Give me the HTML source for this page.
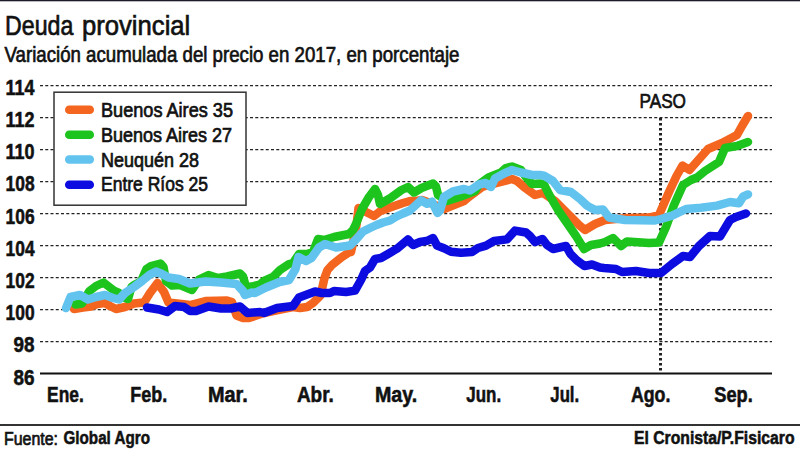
<!DOCTYPE html>
<html><head><meta charset="utf-8">
<style>
html,body{margin:0;padding:0;background:#fff;}
body{width:800px;height:450px;overflow:hidden;position:relative;}
svg{position:absolute;left:0;top:0;}
text{font-family:"Liberation Sans",sans-serif;fill:#111;}
.r{stroke:#111;stroke-width:0.7px;}
.b{stroke:#111;stroke-width:0.55px;}
.b{font-weight:bold;}
</style></head><body>
<svg width="800" height="450" viewBox="0 0 800 450">
<rect x="0" y="0" width="800" height="1.3" fill="#1c1c28"/>
<text x="5" y="34.9" class="r" font-size="28.5" textLength="68.3" lengthAdjust="spacingAndGlyphs">Deuda</text><text x="82" y="34.9" class="r" font-size="28.5" textLength="108.3" lengthAdjust="spacingAndGlyphs">provincial</text>
<text x="4.5" y="62.3" class="r" font-size="22" textLength="455" lengthAdjust="spacingAndGlyphs">Variación acumulada del precio en 2017, en porcentaje</text>
<line x1="40" y1="85.6" x2="772" y2="85.6" stroke="#222" stroke-width="1.4" stroke-dasharray="3 2.25"/>
<line x1="40" y1="117.6" x2="772" y2="117.6" stroke="#222" stroke-width="1.4" stroke-dasharray="3 2.25"/>
<line x1="40" y1="149.6" x2="772" y2="149.6" stroke="#222" stroke-width="1.4" stroke-dasharray="3 2.25"/>
<line x1="40" y1="181.6" x2="772" y2="181.6" stroke="#222" stroke-width="1.4" stroke-dasharray="3 2.25"/>
<line x1="40" y1="213.6" x2="772" y2="213.6" stroke="#222" stroke-width="1.4" stroke-dasharray="3 2.25"/>
<line x1="40" y1="245.6" x2="772" y2="245.6" stroke="#222" stroke-width="1.4" stroke-dasharray="3 2.25"/>
<line x1="40" y1="277.6" x2="772" y2="277.6" stroke="#222" stroke-width="1.4" stroke-dasharray="3 2.25"/>
<line x1="40" y1="309.6" x2="772" y2="309.6" stroke="#222" stroke-width="1.4" stroke-dasharray="3 2.25"/>
<line x1="40" y1="341.6" x2="772" y2="341.6" stroke="#222" stroke-width="1.4" stroke-dasharray="3 2.25"/>
<line x1="40" y1="373.5" x2="772" y2="373.5" stroke="#111" stroke-width="2"/>
<line x1="660.5" y1="118" x2="660.5" y2="372" stroke="#222" stroke-width="3" stroke-dasharray="2.6 2.4"/>
<polyline points="74,309 83,307.5 91,306.5 97,304 105,303 110,306 116,309 125,307 134,303.5 144,302.5 150,293 157.5,283 164,292 168.5,302.5 190,305 205.5,301 227,300.5 232,302 236.5,315.5 243,318 249,318 264,313 278,310 293,307 300,308 307,307 313,303 320.5,295.5 324.5,278 327.5,270 332,265 342,257 350,251.7 351,252 354,238 356.5,225 358.5,208 366,212 374,216 380.5,211 390,207.5 403,203 410,201 416,201 422,200 433,204 444,209 464,201 470,196 482,187 495,183.5 512,179 517,181 524,187 535,195 543,193 555,201 567,213 579,225 585,230 595,224 605,220 627,218 649,217.5 659,215 669,192 676.5,176 682.5,165.5 689.5,170 708,149 722,143 737,135 742,126 748,116" fill="none" stroke="#f4661f" stroke-width="8.5" stroke-linejoin="round" stroke-linecap="round"/>
<polyline points="75.5,304.5 82,303.5 89.5,291 96,286 103.5,282.5 110,287.5 114.5,291 119,293 125,298 128,299 131.5,287 135,284.5 141,281.5 146.5,269 151,266 160.5,263.5 163.5,267 166,281 172,285.5 180,285 192,290 199,279.5 208.5,275 218,278 227,276.5 240,273.5 243,276.5 246,287 252,286.5 260,284.5 264,281 273,277 280,270 289,264 293,263 299,254 307,254 313,252 318,239 324,240 334,237 349,234 353,230 356,224 362,209 369,197 375,189 378,195 380,204 390.5,198 401.5,190 408,187 414,192.5 421.5,188 433,183.5 436,186.5 438,195 447,201 459.5,197 475,191 479.5,184 488.5,177.5 501,172.5 506,168 512,166.5 521,170 526,177 532,184 540,183.5 544,184.4 549,194.4 558,210 567,223 576,236 584,249 591,245 600,243.5 605,242 613,238 621,246 627,241.5 649,243 659,242.5 666,227 674,205 683,185 691,180 697,177.5 705,171 719,162 725,148 737,146 748,142" fill="none" stroke="#1ec41e" stroke-width="8.5" stroke-linejoin="round" stroke-linecap="round"/>
<polyline points="66,308 70.5,297 80,295 88,299.5 96,297 105,295 113,298 119,299.5 125,293 134,287 142,281 150,274.5 156,271.5 162,274 168.5,277.5 179,279 190,283.5 205.5,281.5 221,282.5 236.5,284 243,291 245,295 252,292.5 255,293 266,287.5 279.5,282 289,280 295.5,269 298.5,257 306,261 311.5,258 319,247.5 325,244 336,247.5 350,245.5 356.5,239 363,231.5 370,228 376.5,225 383,222.5 390,220.5 396.5,216.5 403,213.5 410,210.5 417,204 421,200.3 427,203.7 432,201.7 437.5,213 440,210.5 444,197 453,191.5 464,189 470,190.5 479,184.5 485.5,183 491,187 495,178.5 504,173.5 512,170 521,172.5 532,175 540,175 544,175.6 553,181 560,190 571,192 580,199 587,205.6 595,210 603,209.5 609,217.5 625,220 655,220.5 661,219 672,215.6 686,209 701,207.8 717,205.6 730,202 739,203.3 743,196.7 748,194.4" fill="none" stroke="#62c3ee" stroke-width="8.5" stroke-linejoin="round" stroke-linecap="round"/>
<polyline points="147,307.5 159,309.5 167,312 175,306 184,307 190,311 196,311 208.5,306.5 221,308.5 230.5,308.5 240,306.5 247.5,313 260,312 264,313 277,308 293,306 299,297.5 315,291.5 322,293 330,293 334,291 346,292 355,290.6 361,280 365,271 370,267.5 375,259 381,258 388,254 397,248.7 405,242 408,239.4 413,245 420,242 428,240.6 433,238 437,245.6 444,248.3 451,251.7 461,252.8 472,252 478,248 486,245.6 494,241 507,239.4 515,230.6 526,232.5 530,236 535,242 542.5,239 547,245 553,249 566,246 570.5,254 577,260.5 584.5,266 592,264.5 600,267.5 604,268 616,269 622,272 636,271 649,273 661,273 672,264 683,256 690,257 699,246 710,236 720,236.5 730,220 736,217 746,213.5" fill="none" stroke="#0c0ce0" stroke-width="8.5" stroke-linejoin="round" stroke-linecap="round"/>
<text x="5.6" y="94.5" class="b" font-size="21.5" textLength="29" lengthAdjust="spacingAndGlyphs">114</text>
<text x="5.6" y="126.7" class="b" font-size="21.5" textLength="29" lengthAdjust="spacingAndGlyphs">112</text>
<text x="5.6" y="159.0" class="b" font-size="21.5" textLength="29" lengthAdjust="spacingAndGlyphs">110</text>
<text x="5.6" y="191.2" class="b" font-size="21.5" textLength="29" lengthAdjust="spacingAndGlyphs">108</text>
<text x="5.6" y="223.5" class="b" font-size="21.5" textLength="29" lengthAdjust="spacingAndGlyphs">106</text>
<text x="5.6" y="255.7" class="b" font-size="21.5" textLength="29" lengthAdjust="spacingAndGlyphs">104</text>
<text x="5.6" y="287.9" class="b" font-size="21.5" textLength="29" lengthAdjust="spacingAndGlyphs">102</text>
<text x="5.6" y="320.2" class="b" font-size="21.5" textLength="29" lengthAdjust="spacingAndGlyphs">100</text>
<text x="13.6" y="352.4" class="b" font-size="21.5" textLength="21" lengthAdjust="spacingAndGlyphs">98</text>
<text x="13.6" y="384.7" class="b" font-size="21.5" textLength="21" lengthAdjust="spacingAndGlyphs">86</text>
<text x="47.1" y="401.5" class="b" font-size="21.5" textLength="36.7" lengthAdjust="spacingAndGlyphs">Ene.</text>
<text x="130.3" y="401.5" class="b" font-size="21.5" textLength="36.9" lengthAdjust="spacingAndGlyphs">Feb.</text>
<text x="207.9" y="401.5" class="b" font-size="21.5" textLength="39.9" lengthAdjust="spacingAndGlyphs">Mar.</text>
<text x="296.9" y="401.5" class="b" font-size="21.5" textLength="36.9" lengthAdjust="spacingAndGlyphs">Abr.</text>
<text x="374.9" y="401.5" class="b" font-size="21.5" textLength="42.3" lengthAdjust="spacingAndGlyphs">May.</text>
<text x="466.3" y="401.5" class="b" font-size="21.5" textLength="34.9" lengthAdjust="spacingAndGlyphs">Jun.</text>
<text x="550.3" y="401.5" class="b" font-size="21.5" textLength="28.9" lengthAdjust="spacingAndGlyphs">Jul.</text>
<text x="630.9" y="401.5" class="b" font-size="21.5" textLength="39.5" lengthAdjust="spacingAndGlyphs">Ago.</text>
<text x="714.3" y="401.5" class="b" font-size="21.5" textLength="38.5" lengthAdjust="spacingAndGlyphs">Sep.</text>
<rect x="54" y="92.2" width="192" height="113" fill="#fff" stroke="#333" stroke-width="1.5"/>
<line x1="69.2" y1="109.7" x2="89.8" y2="109.7" stroke="#f4661f" stroke-width="8.5" stroke-linecap="round"/>
<line x1="69.2" y1="134.7" x2="89.8" y2="134.7" stroke="#1ec41e" stroke-width="8.5" stroke-linecap="round"/>
<line x1="69.2" y1="159.6" x2="89.8" y2="159.6" stroke="#62c3ee" stroke-width="8.5" stroke-linecap="round"/>
<line x1="69.2" y1="184.7" x2="89.8" y2="184.7" stroke="#0c0ce0" stroke-width="8.5" stroke-linecap="round"/>
<text x="101" y="116.7" class="r" font-size="20" textLength="132" lengthAdjust="spacingAndGlyphs">Buenos Aires 35</text>
<text x="101" y="141.6" class="r" font-size="20" textLength="131" lengthAdjust="spacingAndGlyphs">Buenos Aires 27</text>
<text x="101" y="166.6" class="r" font-size="20" textLength="98" lengthAdjust="spacingAndGlyphs">Neuquén 28</text>
<text x="101" y="191.1" class="r" font-size="20" textLength="107" lengthAdjust="spacingAndGlyphs">Entre Ríos 25</text>
<text x="639.5" y="108.3" class="r" font-size="20.5" textLength="46.5" lengthAdjust="spacingAndGlyphs">PASO</text>
<rect x="0" y="424" width="800" height="2" fill="#333"/>
<text x="4" y="444.6" class="r" font-size="18.3" textLength="54" lengthAdjust="spacingAndGlyphs">Fuente:</text>
<text x="63.5" y="444.4" class="b" font-size="18.3" textLength="86.5" lengthAdjust="spacingAndGlyphs">Global Agro</text>
<text x="634" y="444.4" class="b" font-size="18.3" textLength="160.5" lengthAdjust="spacingAndGlyphs">El Cronista/P.Fisicaro</text>
</svg>
</body></html>
